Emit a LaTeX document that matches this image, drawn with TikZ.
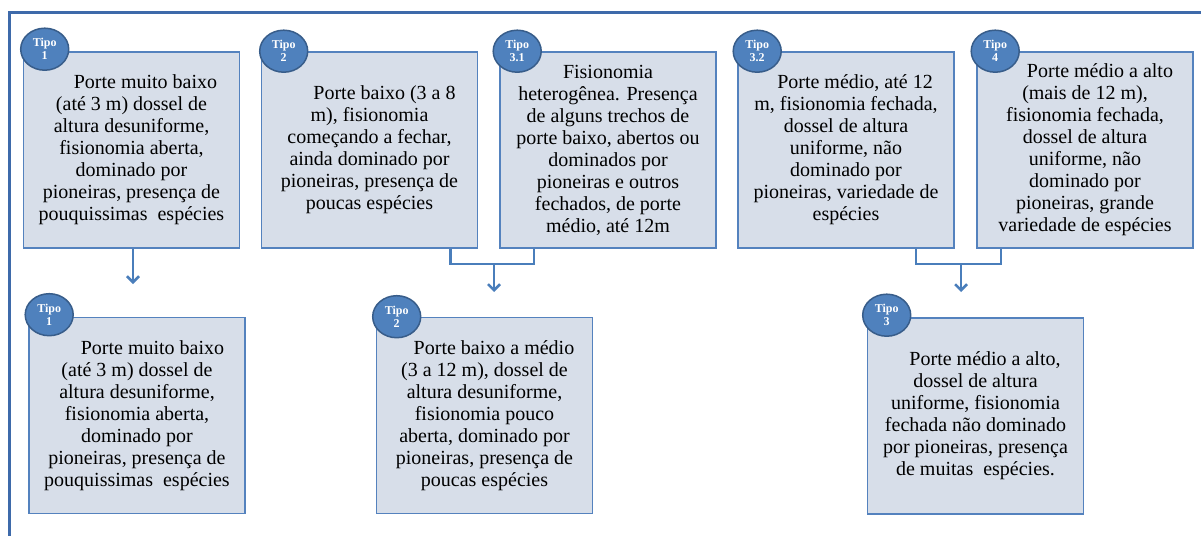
\documentclass[tikz,border=0pt]{standalone}
\usepackage{fontspec}
\setmainfont{Liberation Serif}
\usetikzlibrary{arrows.meta,shapes.geometric,calc}
\definecolor{framec}{RGB}{62,106,170}
\definecolor{boxline}{RGB}{84,130,190}
\definecolor{boxfill}{RGB}{215,222,233}
\definecolor{tipofill}{RGB}{79,129,189}
\definecolor{tipoline}{RGB}{56,93,138}
\definecolor{connc}{RGB}{74,126,187}
\newcommand{\tipolabel}[2]{\bfseries\fontsize{12}{13}\selectfont T\,i\,p\,o\\#2}
\begin{document}
\begin{tikzpicture}[x=1pt,y=-1pt,
  box/.style={draw=boxline, line width=1.6pt, fill=boxfill, minimum width=216pt,
    minimum height=196pt, inner sep=0pt, align=center,
    font=\fontsize{20}{22}\selectfont},
  tipo/.style={ellipse, draw=tipoline, line width=1.5pt, fill=tipofill,
    minimum width=48pt, minimum height=42pt, inner sep=0pt, align=center,
    text=white, font=\bfseries\fontsize{12}{13}\selectfont},
  conn/.style={draw=connc, line width=2.5pt},
  arr/.style={conn, -{Straight Barb[length=6pt,width=12pt]}}
]
\useasboundingbox (0,0) rectangle (1201,535);
% outer frame
\draw[framec, line width=3pt] (9.5,545) -- (9.5,12.5) -- (1210,12.5);

% connector points
\coordinate (a1) at (133,284);
\coordinate (j2) at (494,264);
\coordinate (a2) at (494,292);
\coordinate (j3) at (961,264);
\coordinate (a3) at (961,292);

% top row
\node[box] (t1) at (131.5,150) {\hspace*{28pt}Porte muito baixo\\(até 3 m) dossel de\\altura desuniforme,\\fisionomia aberta,\\dominado por\\pioneiras, presença de\\pouquissimas\ \ espécies};
\node[box] (t2) at (369.5,150) {\hspace*{30pt}Porte baixo (3 a 8\\m), fisionomia\\começando a fechar,\\ainda dominado por\\pioneiras, presença de\\poucas espécies};
\node[box] (t3) at (608,150) {Fisionomia\\heterogênea. Presença\\de alguns trechos de\\porte baixo, abertos ou\\dominados por\\pioneiras e outros\\fechados, de porte\\médio, até 12m};
\node[box] (t4) at (846,150) {\hspace*{18pt}Porte médio, até 12\\m, fisionomia fechada,\\dossel de altura\\uniforme, não\\dominado por\\pioneiras, variedade de\\espécies};
\node[box] (t5) at (1085,150) {\hspace*{30pt}Porte médio a alto\\(mais de 12 m),\\fisionomia fechada,\\dossel de altura\\uniforme, não\\dominado por\\pioneiras, grande\\variedade de espécies};

% bottom row
\node[box] (b1) at (137,415.5) {\hspace*{31pt}Porte muito baixo\\(até 3 m) dossel de\\altura desuniforme,\\fisionomia aberta,\\dominado por\\pioneiras, presença de\\pouquissimas\ \ espécies};
\node[box] (b2) at (484.5,415.5) {\hspace*{19pt}Porte baixo a médio\\(3 a 12 m), dossel de\\altura desuniforme,\\fisionomia pouco\\aberta, dominado por\\pioneiras, presença de\\poucas espécies};
\node[box] (b3) at (975.5,416) {\hspace*{19pt}Porte médio a alto,\\dossel de altura\\uniforme, fisionomia\\fechada não dominado\\por pioneiras, presença\\de muitas\ \ espécies.};

% badges
\node[tipo] (c1) at ($(t1.north west)+(22,-2)$) {Tipo\\1};
\node[tipo] (c2) at ($(t2.north west)+(23,0)$) {Tipo\\2};
\node[tipo] (c3) at ($(t3.north west)+(18,0)$) {Tipo\\3.1};
\node[tipo] (c4) at ($(t4.north west)+(20,0)$) {Tipo\\3.2};
\node[tipo] (c5) at ($(t5.north west)+(19,0)$) {Tipo\\4};
\node[tipo] (d1) at ($(b1.north west)+(21,-2)$) {Tipo\\1};
\node[tipo] (d2) at ($(b2.north west)+(21,0)$) {Tipo\\2};
\node[tipo] (d3) at ($(b3.north west)+(20,-2)$) {Tipo\\3};

% connectors
\draw[arr] ($(t1.south)+(1.5,0)$) -- (a1);
\draw[conn] ($(t2.south east)+(-28,0)$) |- (j2) -| ($(t3.south west)+(35,0)$);
\draw[arr] (j2) -- (a2);
\draw[conn] ($(t4.south east)+(-39,0)$) |- (j3) -| ($(t5.south west)+(25,0)$);
\draw[arr] (j3) -- (a3);
\end{tikzpicture}
\end{document}
